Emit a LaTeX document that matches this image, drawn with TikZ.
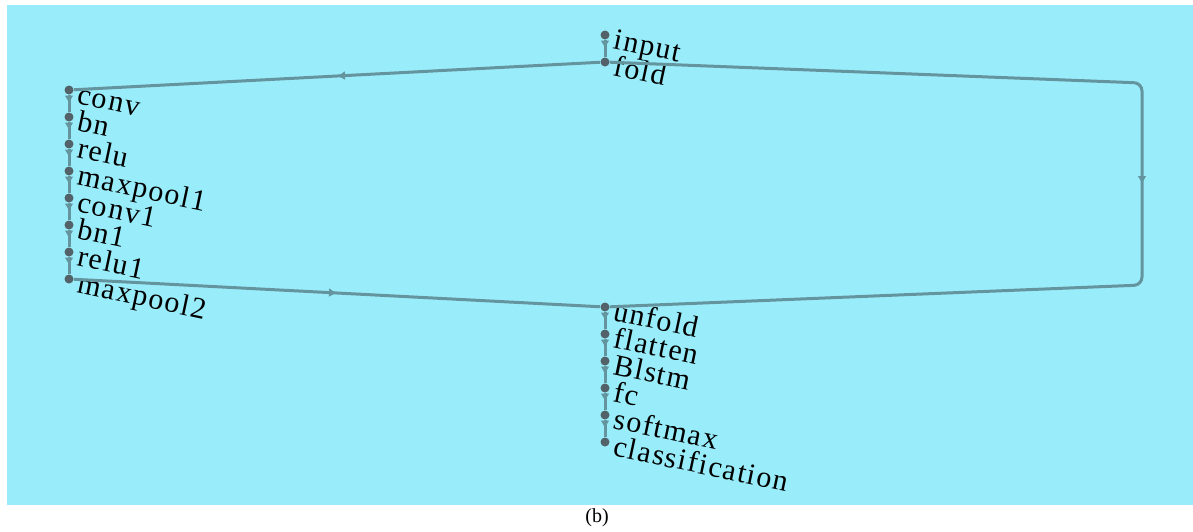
\documentclass[tikz,border=0pt]{standalone}
\usepackage{fontspec}
\setmainfont{Liberation Serif}
\newfontfamily\lblfont[LetterSpace=5]{Liberation Serif}
\usetikzlibrary{arrows.meta,decorations.markings}
\definecolor{panel}{RGB}{153,237,250}
\definecolor{wirecol}{RGB}{100,148,158}
\definecolor{blob}{RGB}{82,98,104}

\begin{document}
\begin{tikzpicture}[x=0.5pt, y=-0.5pt,
  layer/.style = {circle, fill=blob, inner sep=0pt, minimum size=4.5pt},
  lbl/.style = {anchor=base west, rotate=-12, inner sep=0pt,
    font=\lblfont\fontsize{15}{15}\selectfont},
  link/.style = {draw=wirecol, line width=1.5pt, postaction=decorate,
    decoration={markings, mark=at position 0.5 with
      {\arrow{Latex[length=4pt,width=4.5pt]}}}}]
  \useasboundingbox (0,0) rectangle (1193,531);
  \fill[panel] (7,5) rectangle (1193,505);
  % dots
  \node[layer] (input) at (605,35) {};
  \node[layer] (fold) at (605,62) {};
  \node[layer] (conv) at (69,90) {};
  \node[layer] (bn) at (69,117) {};
  \node[layer] (relu) at (69,144) {};
  \node[layer] (maxpool1) at (69,171) {};
  \node[layer] (conv1) at (69,198) {};
  \node[layer] (bn1) at (69,225) {};
  \node[layer] (relu1) at (69,252) {};
  \node[layer] (maxpool2) at (69,279) {};
  \node[layer] (unfold) at (605,307) {};
  \node[layer] (flatten) at (605,334) {};
  \node[layer] (Blstm) at (605,361) {};
  \node[layer] (fc) at (605,388) {};
  \node[layer] (softmax) at (605,415) {};
  \node[layer] (classification) at (605,442) {};
  \coordinate (rt) at (1142,83);
  \coordinate (rb) at (1142,285);
  % names
  \foreach \n in {input,fold,conv,bn,relu,maxpool1,conv1,bn1,relu1,maxpool2,
                  unfold,flatten,Blstm,fc,softmax,classification}
    \node[lbl] (\n-t) at ([shift={(7,13)}]\n.center) {\n};
  % edges
  \foreach \a/\b in {input/fold,conv/bn,bn/relu,relu/maxpool1,maxpool1/conv1,
                     conv1/bn1,bn1/relu1,relu1/maxpool2,unfold/flatten,
                     flatten/Blstm,Blstm/fc,fc/softmax,softmax/classification}
    \draw[link] (\a) -- (\b);
  \draw[link] (fold) -- (conv);
  \draw[link] (maxpool2) -- (unfold);
  \draw[link, rounded corners=4pt] (fold) -- (rt) -- (rb) -- (unfold);
  \node[font=\fontsize{10}{10}\selectfont] (cap) at (597,518) {(b)};
\end{tikzpicture}
\end{document}
